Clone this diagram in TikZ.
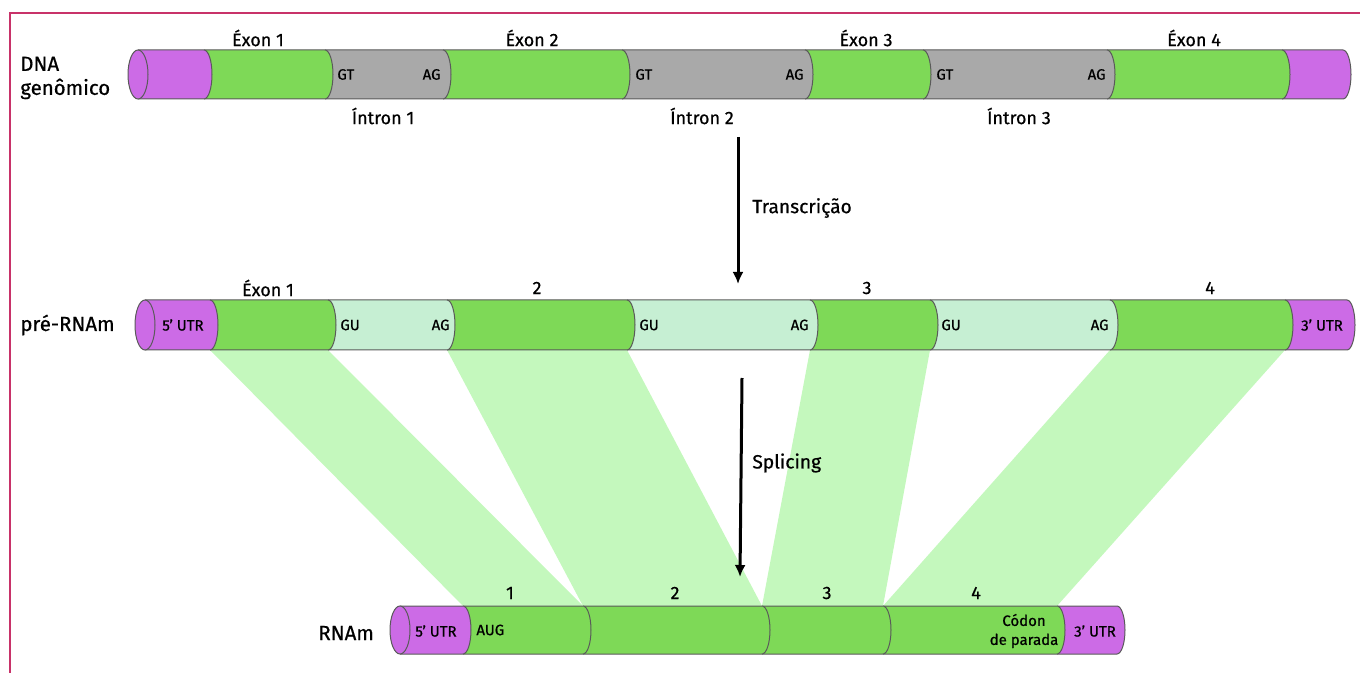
\documentclass[tikz,border=0pt]{standalone}
\usepackage{fontspec}
\setmainfont{Fira Sans}[FakeBold=0.6]
\usetikzlibrary{arrows.meta}
\definecolor{cpurple}{HTML}{CC6BE6}
\definecolor{cgreen}{HTML}{7ED957}
\definecolor{cgray}{HTML}{A9A9A9}
\definecolor{clight}{HTML}{C6EFD3}
\definecolor{cband}{HTML}{C4F8BD}
\definecolor{cframe}{RGB}{200,50,105}
\definecolor{cedge}{HTML}{5A5A5A}
\newcommand{\cylseg}[6]{%
  \fill[#5] (#1,#3) -- (#2,#3) arc[start angle=90,end angle=-90,x radius=4pt,y radius=#6] -- (#1,#4) -- cycle;
  \draw[edgeline] (#1,#3) -- (#2,#3) arc[start angle=90,end angle=-90,x radius=4pt,y radius=#6] -- (#1,#4);
}
\tikzset{
  edgeline/.style={draw=cedge,line width=0.5pt},
  lbl/.style={font=\fontsize{9}{11}\selectfont,inner sep=0pt},
  rowlbl/.style={font=\fontsize{10.2}{12}\selectfont,inner sep=0pt},
  arrlbl/.style={font=\fontsize{9.6}{11}\selectfont,inner sep=0pt},
  small/.style={font=\fontsize{7.5}{9}\selectfont,inner sep=0pt},
  band/.style={fill=cband},
  bigarrow/.style={line width=1.5pt,-{Latex[length=6pt,width=5.5pt]}},
}
\begin{document}
\begin{tikzpicture}[x=0.5pt,y=-0.5pt]
\useasboundingbox (0,0) rectangle (1360,673);
% frame
\draw[cframe,line width=1.2pt] (10,673) -- (10,13) -- (1360,13);

% bands
\fill[band] (210,350) -- (328,350) -- (583,606) -- (463,606) -- cycle;
\fill[band] (447,350) -- (627,350) -- (762,606) -- (583,606) -- cycle;
\fill[band] (810,350) -- (930,350) -- (883,606) -- (762,606) -- cycle;
\fill[band] (1110,350) -- (1285,350) -- (1057,606) -- (883,606) -- cycle;

% DNA genomic cylinder
\cylseg{1282}{1343}{50}{99}{cpurple}{12.25pt}
\cylseg{1107}{1282}{50}{99}{cgreen}{12.25pt}
\cylseg{923}{1107}{50}{99}{cgray}{12.25pt}
\cylseg{805}{923}{50}{99}{cgreen}{12.25pt}
\cylseg{622}{805}{50}{99}{cgray}{12.25pt}
\cylseg{443}{622}{50}{99}{cgreen}{12.25pt}
\cylseg{325}{443}{50}{99}{cgray}{12.25pt}
\cylseg{204}{325}{50}{99}{cgreen}{12.25pt}
\cylseg{138}{204}{50}{99}{cpurple}{12.25pt}
\draw[edgeline,fill=cpurple] (138,74.5) ellipse[x radius=5pt,y radius=12.25pt];

% pre-mRNA cylinder
\cylseg{1285}{1347}{300}{350}{cpurple}{12.5pt}
\cylseg{1110}{1285}{300}{350}{cgreen}{12.5pt}
\cylseg{930}{1110}{300}{350}{clight}{12.5pt}
\cylseg{810}{930}{300}{350}{cgreen}{12.5pt}
\cylseg{627}{810}{300}{350}{clight}{12.5pt}
\cylseg{447}{627}{300}{350}{cgreen}{12.5pt}
\cylseg{328}{447}{300}{350}{clight}{12.5pt}
\cylseg{210}{328}{300}{350}{cgreen}{12.5pt}
\cylseg{145}{210}{300}{350}{cpurple}{12.5pt}
\draw[edgeline,fill=cpurple] (145,325) ellipse[x radius=5pt,y radius=12.5pt];

% mRNA cylinder
\cylseg{1057}{1117}{606}{654}{cpurple}{12pt}
\cylseg{883}{1057}{606}{654}{cgreen}{12pt}
\cylseg{762}{883}{606}{654}{cgreen}{12pt}
\cylseg{583}{762}{606}{654}{cgreen}{12pt}
\cylseg{463}{583}{606}{654}{cgreen}{12pt}
\cylseg{400}{463}{606}{654}{cpurple}{12pt}
\draw[edgeline,fill=cpurple] (400,630) ellipse[x radius=5pt,y radius=12pt];

% DNA labels
\node[rowlbl,anchor=west,align=left] (dna) at (20,78) {DNA\\genômico};
\node[lbl] (dex1) at (258,38) {Éxon 1};
\node[lbl] (dex2) at (532,38) {Éxon 2};
\node[lbl] (dex3) at (866,38) {Éxon 3};
\node[lbl] (dex4) at (1194,38) {Éxon 4};
\node[lbl] (din1) at (383,116) {Íntron 1};
\node[lbl] (din2) at (702,116) {Íntron 2};
\node[lbl] (din3) at (1019,116) {Íntron 3};
\node[small,anchor=west] (dgt1) at (337,74.5) {GT};
\node[small,anchor=east] (dag1) at (441,74.5) {AG};
\node[small,anchor=west] (dgt2) at (635,74.5) {GT};
\node[small,anchor=east] (dag2) at (804,74.5) {AG};
\node[small,anchor=west] (dgt3) at (936,74.5) {GT};
\node[small,anchor=east] (dag3) at (1106,74.5) {AG};

% pre-mRNA labels
\node[rowlbl,anchor=west] (pre) at (20,325) {pré-RNAm};
\node[lbl] (pex1) at (268,288) {Éxon 1};
\node[lbl] (pex2) at (537,288) {2};
\node[lbl] (pex3) at (867,288) {3};
\node[lbl] (pex4) at (1210,288) {4};
\node[small] (p5utr) at (183,325) {5’ UTR};
\node[small] (p3utr) at (1322,325) {3’ UTR};
\node[small,anchor=west] (pgu1) at (340,325) {GU};
\node[small,anchor=east] (pag1) at (450,325) {AG};
\node[small,anchor=west] (pgu2) at (639,325) {GU};
\node[small,anchor=east] (pag2) at (809,325) {AG};
\node[small,anchor=west] (pgu3) at (941,325) {GU};
\node[small,anchor=east] (pag3) at (1109,325) {AG};

% mRNA labels
\node[rowlbl,anchor=west] (mrna) at (318,633) {RNAm};
\node[lbl] (mex1) at (510,593) {1};
\node[lbl] (mex2) at (675,593) {2};
\node[lbl] (mex3) at (827,593) {3};
\node[lbl] (mex4) at (976,593) {4};
\node[small] (m5utr) at (436,631) {5’ UTR};
\node[small] (m3utr) at (1095,631) {3’ UTR};
\node[small,anchor=west] (aug) at (476,630) {AUG};
\node[small,align=center,font=\fontsize{7.5}{9.5}\selectfont] (stop) at (1024,631) {Códon\\de parada};

% process arrows
\coordinate (t1) at (738,137);
\coordinate (t2) at (738,284);
\coordinate (s1) at (742,378);
\coordinate (s2) at (740,577);
\draw[bigarrow] (t1) -- (t2);
\draw[bigarrow] (s1) -- (s2);
\node[arrlbl,anchor=west] (trl) at (752,208) {Transcrição};
\node[arrlbl,anchor=west] (spl) at (752,463) {Splicing};
\end{tikzpicture}
\end{document}
